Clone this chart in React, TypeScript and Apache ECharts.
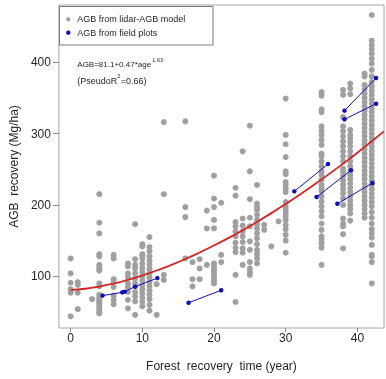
import React, { useEffect, useRef } from "react";
import * as echarts from "echarts";

const xTicks = [0, 10, 20, 30, 40];
const yTicks = [100, 200, 300, 400];

// Lidar-AGB model estimates: recovery age (years) and AGB values (Mg/ha) at each age
const lidarAges = [0, 1, 3, 4, 6, 8, 9, 10, 11, 12, 13, 16, 17, 18, 19, 20, 21, 23, 24, 25, 26, 27, 28, 29, 30, 35, 38, 39, 41, 42];
const lidarAgb = [
  [125, 104, 91, 82, 77, 44],
  [92, 88, 77, 54],
  [68],
  [215, 175, 160, 131, 128, 116, 113, 110, 108, 90, 86, 74, 71, 68, 65, 62, 59, 56, 53, 50, 48],
  [130, 125, 96, 92, 85, 73, 67, 61],
  [118, 114, 104, 99, 90, 85, 78, 67, 55],
  [173, 124, 116, 111, 104, 97, 90, 86, 78, 72, 65, 46],
  [145, 142, 131, 129, 125, 118, 112, 106, 100, 94, 88, 82, 76, 70, 64, 58],
  [155, 141, 135, 128, 122, 116, 110, 104, 98, 92, 86, 80, 74, 68, 60, 52],
  [89, 46],
  [316, 215, 102, 95],
  [317, 197, 183, 125],
  [120, 96, 86],
  [124, 111, 96],
  [192, 167, 116],
  [241, 209, 197, 179, 167, 118, 114, 110, 106, 102, 98, 94, 90],
  [203, 130, 120],
  [224, 213, 176, 170, 163, 156, 147, 140, 134, 102, 64],
  [275, 181, 171, 163, 156, 148, 139, 133, 116],
  [311, 247, 208, 182, 170, 149, 137, 120, 111, 106, 102],
  [228, 202, 197, 193, 186, 179, 173, 167, 160, 153, 145, 137, 131, 125, 118],
  [172, 165],
  [142],
  [177],
  [349, 298, 285, 267, 247, 243, 232, 228, 223, 218, 204, 198, 193, 188, 184, 179, 172, 166, 158, 150, 133],
  [358, 353, 334, 330, 310, 304, 298, 291, 284, 272, 268, 261, 254, 247, 242, 235, 228, 223, 219, 212, 205, 198, 191, 184, 174, 165, 156, 151, 146, 140, 116],
  [361, 354, 323, 310, 303, 296, 289, 282, 275, 268, 261, 251, 246, 240, 234, 228, 222, 216, 209, 200, 181, 174, 170, 159, 139],
  [370, 363, 355, 305, 298, 293, 288, 282, 275, 268, 261, 254, 248, 242, 236, 230, 224, 218, 212, 206, 200, 194, 188, 178],
  [384, 380, 368, 362, 356, 350, 344, 338, 332, 326, 320, 314, 308, 302, 296, 290, 284, 278, 272, 266, 260, 254, 248, 242, 236, 230, 224, 218, 212, 206, 200, 194, 188, 182],
  [466, 430, 424, 418, 412, 405, 398, 389, 380, 372, 366, 360, 354, 348, 342, 336, 330, 324, 318, 312, 306, 300, 294, 288, 282, 276, 270, 264, 258, 252, 246, 240, 234, 228, 222, 216, 210, 204, 198, 190, 182, 174, 166, 160, 154, 144, 130, 128, 120, 90],
];

// Field plots: repeated measurements (ages and AGB) linked by segments
const fieldAges = [[4.45, 7.2], [7.55, 9.0, 12.1], [16.45, 21.0], [31.2, 35.9], [34.3, 39.1], [37.2, 42.1], [38.2, 42.6], [38.2, 42.6]];
const fieldAgb = [[73, 77.5], [78.5, 85.5, 97.5], [63, 80.4], [219, 257.3], [211, 248.5], [201.7, 230.7], [332, 377.7], [320, 341.7]];

// Fitted recovery curve
const curveAges = [0, 2, 4, 6, 8, 10, 12, 14, 16, 18, 20, 22, 24, 26, 28, 30, 32, 34, 36, 38, 40, 42, 43.7];
const curveAgb = [81.1, 82.6, 85.6, 89.8, 95.0, 101.2, 108.1, 115.8, 124.2, 133.4, 143.2, 153.6, 164.6, 176.3, 188.5, 201.3, 214.6, 228.5, 242.9, 257.8, 273.1, 289.2, 303.0];

const FONT = "'Liberation Sans', Arial, sans-serif";
const TEXT = "#262626";
const GRAY = "#a0a0a0";
const BLUE = "#1010b8";
const RED = "#d42424";

export default function App() {
  const ref = useRef<HTMLDivElement>(null);
  useEffect(() => {
    const chart = echarts.init(ref.current!, null, { renderer: "svg" });
    const lidarData: number[][] = [];
    lidarAges.forEach((a, i) => lidarAgb[i].forEach((v) => lidarData.push([a, v])));
    const fieldSeries = fieldAges.map((ages, i) => ({
      type: "line",
      name: "AGB from field plots",
      data: ages.map((a, j) => [a, fieldAgb[i][j]]),
      symbol: "circle",
      symbolSize: 4.5,
      showSymbol: true,
      lineStyle: { color: BLUE, width: 1 },
      itemStyle: { color: BLUE },
      z: 3,
    }));
    chart.setOption({
      animation: false,
      grid: { left: 58, right: 2, top: 5, bottom: 51, show: true, borderColor: "#a6a6a6", borderWidth: 1, backgroundColor: "transparent" },
      xAxis: {
        type: "value",
        min: -1.63,
        max: 43.71,
        name: "Forest  recovery  time (year)",
        nameLocation: "middle",
        nameGap: 32,
        nameTextStyle: { fontSize: 12, color: TEXT, fontFamily: FONT },
        axisLine: { show: false, onZero: false },
        splitLine: { show: false },
        axisTick: { show: true, customValues: xTicks, length: 4, lineStyle: { color: "#8a8a8a" } },
        axisLabel: { customValues: xTicks, margin: 4, fontSize: 12, color: TEXT, fontFamily: FONT },
      },
      yAxis: {
        type: "value",
        min: 27.6,
        max: 480,
        name: "AGB  recovery (Mg/ha)",
        nameLocation: "middle",
        nameGap: 33,
        nameRotate: 90,
        nameTextStyle: { fontSize: 12, color: TEXT, fontFamily: FONT },
        axisLine: { show: false, onZero: false },
        splitLine: { show: false },
        axisTick: { show: true, customValues: yTicks, length: 6, lineStyle: { color: "#8a8a8a" } },
        axisLabel: { customValues: yTicks, margin: 8, fontSize: 12, color: TEXT, fontFamily: FONT },
      },
      series: [
        {
          type: "scatter",
          name: "AGB from lidar-AGB model",
          data: lidarData,
          symbol: "circle",
          symbolSize: 6,
          itemStyle: { color: GRAY, opacity: 1 },
          z: 2,
        },
        ...fieldSeries,
        {
          type: "line",
          name: "Fitted curve",
          data: curveAges.map((a, i) => [a, curveAgb[i]]),
          smooth: true,
          symbol: "none",
          lineStyle: { color: RED, width: 1.8 },
          z: 4,
        },
      ],
      graphic: [
        { type: "rect", shape: { x: 59.5, y: 6.5, width: 153.5, height: 38.5 }, style: { fill: "#fff", stroke: "#7a7a7a", lineWidth: 1 }, z: 10 },
        { type: "circle", shape: { cx: 68.3, cy: 19.3, r: 2.2 }, style: { fill: GRAY }, z: 11 },
        { type: "text", x: 77.3, y: 19.3, style: { text: "AGB from lidar-AGB model", fontSize: 9, fontFamily: FONT, fill: TEXT, verticalAlign: "middle" }, z: 11 },
        { type: "circle", shape: { cx: 68.3, cy: 32.7, r: 2.2 }, style: { fill: BLUE }, z: 11 },
        { type: "text", x: 77.3, y: 32.7, style: { text: "AGB from field plots", fontSize: 9, fontFamily: FONT, fill: TEXT, verticalAlign: "middle" }, z: 11 },
        { type: "text", x: 77.3, y: 64, style: { text: "AGB=81.1+0.47*age", fontSize: 8, fontFamily: FONT, fill: TEXT, verticalAlign: "middle" }, z: 11 },
        { type: "text", x: 152.3, y: 59.5, style: { text: "1.63", fontSize: 5.5, fontFamily: FONT, fill: TEXT, verticalAlign: "middle" }, z: 11 },
        { type: "text", x: 77.3, y: 80.7, style: { text: "(PseudoR", fontSize: 9, fontFamily: FONT, fill: TEXT, verticalAlign: "middle" }, z: 11 },
        { type: "text", x: 117.3, y: 76.3, style: { text: "2", fontSize: 5.5, fontFamily: FONT, fill: TEXT, verticalAlign: "middle" }, z: 11 },
        { type: "text", x: 120.7, y: 80.7, style: { text: "=0.66)", fontSize: 9, fontFamily: FONT, fill: TEXT, verticalAlign: "middle" }, z: 11 },
      ],
    });
    return () => chart.dispose();
  }, []);
  return <div ref={ref} style={{ position: "fixed", left: 0, top: 0, width: 386, height: 379 }} />;
}
